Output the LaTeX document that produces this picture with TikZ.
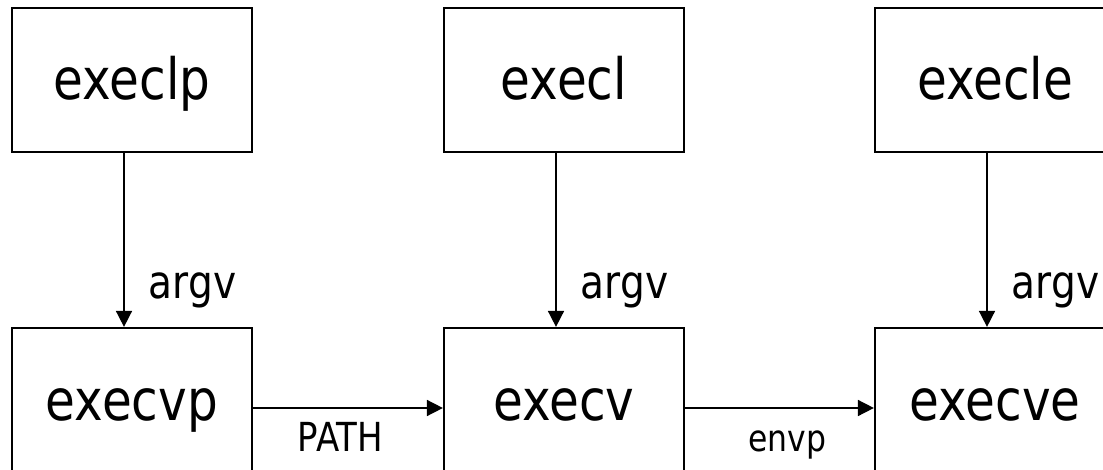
\documentclass[tikz,border=0pt]{standalone}
\usepackage{fontspec}
\setmainfont{DejaVu Sans}[FakeStretch=0.85]
\usetikzlibrary{positioning,arrows.meta}

\begin{document}
\begin{tikzpicture}[auto,x=1pt,y=-1pt,
    every node/.style={on grid,node distance=432pt},
    func/.style={draw,line width=2.2pt,minimum width=240pt,minimum height=144pt,
      inner sep=0pt,text height=42pt,text depth=2pt,font=\fontsize{57}{60}\selectfont},
    argl/.style={inner xsep=24pt,inner ysep=0pt,text height=34pt,text depth=11pt,
      font=\fontsize{46}{50}\selectfont},
    varl/.style={inner ysep=15pt,inner xsep=0pt,text height=28pt,text depth=9pt,
      font=\fontsize{37}{40}\selectfont},
    call/.style={-{Triangle[length=16pt,width=16pt]},line width=1.6pt}]
    \useasboundingbox (0,0) rectangle (1103,470);
    \node[func] (execlp) at (132,80) {execlp};
    \node[func,right=of execlp] (execl) {execl};
    \node[func,right=431pt of execl] (execle) {execle};
    \node[func,below=320pt of execlp] (execvp) {execvp};
    \node[func,below=320pt of execl] (execv) {execv};
    \node[func,below=320pt of execle] (execve) {execve};
    \draw[call] ([xshift=-8pt]execlp.south) -- node[argl,pos=.77] {argv} ([xshift=-8pt]execvp.north);
    \draw[call] ([xshift=-8pt]execl.south) -- node[argl,pos=.77] {argv} ([xshift=-8pt]execv.north);
    \draw[call] ([xshift=-8pt]execle.south) -- node[argl,pos=.77] {argv} ([xshift=-8pt]execve.north);
    \draw[call] ([yshift=-8pt]execvp.east) -- node[varl,swap,pos=.46,font=\fontsize{40}{44}\selectfont] {PATH} ([yshift=-8pt]execv.west);
    \draw[call] ([yshift=-8pt]execv.east) -- node[varl,swap,pos=.54] {envp} ([yshift=-8pt]execve.west);
  \end{tikzpicture}
\end{document}
